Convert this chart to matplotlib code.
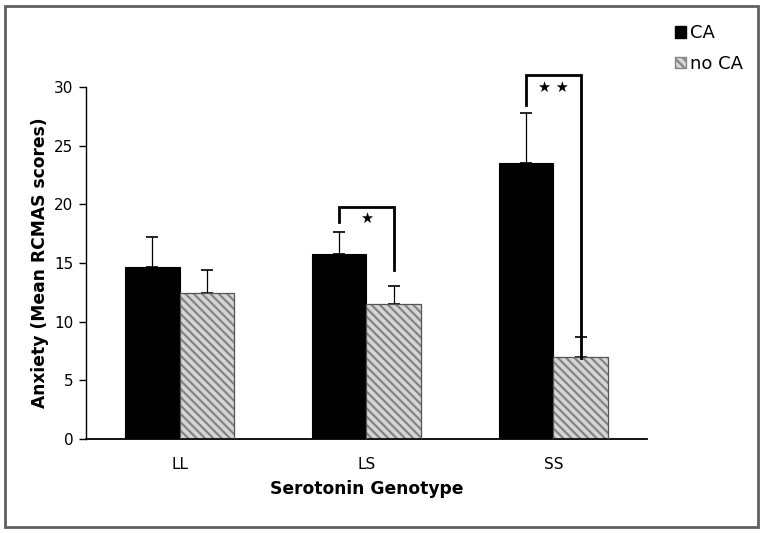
import numpy as np
import matplotlib
matplotlib.use('Agg')
import matplotlib.pyplot as plt
from matplotlib.patches import Patch, Rectangle

genotypes = ["LL", "LS", "SS"]
ca_means = [14.7, 15.8, 23.5]
ca_err = [2.5, 1.8, 4.3]
noca_means = [12.45, 11.5, 7.0]
noca_err = [1.95, 1.5, 1.7]
y_ticks = [0, 5, 10, 15, 20, 25, 30]

HATCH = '\\\\\\\\'
plt.rcParams['hatch.linewidth'] = 1.6
plt.rcParams['hatch.color'] = '#858585'

fig = plt.figure(figsize=(7.66, 5.33), dpi=100)
ax = fig.add_axes([0.1123, 0.1764, 0.7323, 0.6604])

x = np.arange(len(genotypes))
w = 0.29

ax.bar(x - w / 2, ca_means, w, color='black', edgecolor='black', linewidth=0.8, zorder=2)
ax.bar(x + w / 2, noca_means, w, color='#d6d6d6', hatch=HATCH, edgecolor='#858585',
       linewidth=0, zorder=2)
ax.bar(x + w / 2, noca_means, w, color='none', edgecolor='#555555', linewidth=0.9, zorder=3)

# upward-only error bars
ax.errorbar(x - w / 2, ca_means, yerr=[np.zeros(3), ca_err], fmt='none', ecolor='black',
            elinewidth=0.9, capsize=4, capthick=1.2, zorder=1)
ax.errorbar(x + w / 2, noca_means, yerr=[np.zeros(3), noca_err], fmt='none', ecolor='black',
            elinewidth=0.9, capsize=4, capthick=1.2, zorder=1)

# significance brackets
def bracket(i, y_top, y_left, y_right, label):
    xl, xr = i - w / 2, i + w / 2
    ax.plot([xl, xl, xr, xr], [y_left, y_top, y_top, y_right], color='black', lw=2,
            clip_on=False, solid_joinstyle='miter', zorder=4)
    ax.text(i, y_top - 0.4, label, ha='center', va='top', fontsize=10.5,
            family='DejaVu Sans', clip_on=False)

bracket(1, 19.8, 18.5, 14.4, '★')
bracket(2, 31.0, 28.5, 6.9, '★ ★')

ax.set_xlim(-0.5, 2.5)
ax.set_ylim(0, 30)
ax.set_yticks(y_ticks)
ax.set_xticks(x)
ax.set_xticklabels(genotypes)
ax.tick_params(axis='x', length=0, pad=13, labelsize=11)
ax.tick_params(axis='y', direction='out', length=5, width=1, labelsize=11, pad=4)
for s in ['top', 'right']:
    ax.spines[s].set_visible(False)
ax.spines['left'].set_linewidth(1)
ax.spines['bottom'].set_linewidth(1.3)

ax.set_ylabel('Anxiety (Mean RCMAS scores)', fontsize=12.3, fontweight='bold', labelpad=4)
ax.set_xlabel('Serotonin Genotype', fontsize=12.3, fontweight='bold', labelpad=6)

handles = [Patch(facecolor='black', edgecolor='black'),
           Patch(facecolor='#d6d6d6', hatch=HATCH, edgecolor='#858585')]
fig.legend(handles, ['CA', 'no CA'], loc='upper left', bbox_to_anchor=(0.86, 0.985),
           frameon=False, fontsize=13, handlelength=0.6, handleheight=0.6,
           handletextpad=0.25, labelspacing=0.7)

fig.patches.append(Rectangle((5 / 766, 6 / 533), 753 / 766, 521 / 533,
                             transform=fig.transFigure, fill=False,
                             edgecolor='#606060', linewidth=2))

fig.savefig('out.png', dpi=100)
